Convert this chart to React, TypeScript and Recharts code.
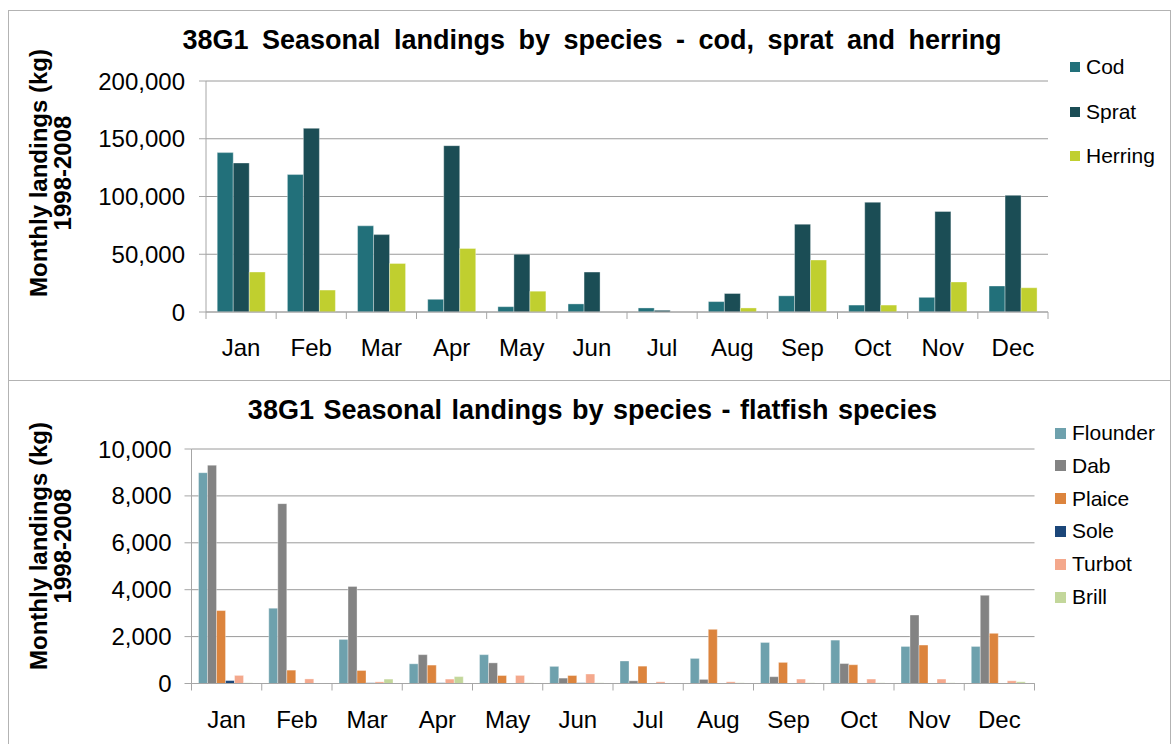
import * as React from "react"
import { BarChart, Bar, XAxis, YAxis, CartesianGrid } from "recharts"

// Month categories shared by both charts
const months = ["Jan", "Feb", "Mar", "Apr", "May", "Jun", "Jul", "Aug", "Sep", "Oct", "Nov", "Dec"]

// Top chart: cod, sprat and herring (kg)
const cod = [138000, 119000, 74600, 11000, 4600, 7000, 3500, 9000, 14000, 6000, 12700, 22500]
const sprat = [129000, 159000, 67000, 144000, 50000, 34600, 1500, 16000, 76000, 95000, 87000, 101000]
const herring = [34600, 19000, 42000, 55000, 18000, 0, 0, 3500, 45000, 6000, 26000, 21000]
const topTicks = [0, 50000, 100000, 150000, 200000]

// Bottom chart: flatfish species (kg)
const flounder = [8990, 3210, 1880, 840, 1230, 730, 960, 1070, 1750, 1850, 1580, 1580]
const dab = [9310, 7670, 4140, 1230, 880, 230, 115, 175, 290, 850, 2920, 3760]
const plaice = [3110, 570, 555, 785, 340, 340, 740, 2310, 900, 800, 1640, 2140]
const sole = [125, 20, 30, 30, 15, 30, 15, 15, 15, 15, 15, 15]
const turbot = [345, 195, 70, 188, 345, 405, 72, 72, 190, 190, 190, 116]
const brill = [30, 15, 188, 295, 30, 30, 10, 30, 30, 30, 30, 72]
const bottomTicks = [0, 2000, 4000, 6000, 8000, 10000]

const topSeries = [
  { key: "Cod", values: cod, color: "#22707a" },
  { key: "Sprat", values: sprat, color: "#1b4d55" },
  { key: "Herring", values: herring, color: "#c0cf2f" },
]

const bottomSeries = [
  { key: "Flounder", values: flounder, color: "#6ea1ad" },
  { key: "Dab", values: dab, color: "#838383" },
  { key: "Plaice", values: plaice, color: "#dc843d" },
  { key: "Sole", values: sole, color: "#1b4679" },
  { key: "Turbot", values: turbot, color: "#f4a88c" },
  { key: "Brill", values: brill, color: "#c3d79b" },
]

const buildRows = (series: { key: string; values: number[] }[]) =>
  months.map((m, i) => {
    const row: Record<string, any> = { month: m }
    series.forEach((s) => (row[s.key] = s.values[i]))
    return row
  })

const topData = buildRows(topSeries)
const bottomData = buildRows(bottomSeries)

const FONT = '"Liberation Sans", Arial, sans-serif'
const AXIS = "#a6a6a6"
const GRID = "#9a9a9a"

const fmt = (v: number) => v.toLocaleString("en-US")

// x tick: label in the middle, tick marks on category boundaries (Excel style)
function CategoryTick(props: any) {
  const { x, y, payload, index, band, count } = props
  const half = band / 2
  return (
    <g>
      <line x1={x - half} x2={x - half} y1={y} y2={y + 7} stroke={AXIS} />
      {index === count - 1 && <line x1={x + half} x2={x + half} y1={y} y2={y + 7} stroke={AXIS} />}
      <text x={x} y={y + 44} textAnchor="middle" fontSize={24} fill="#000" fontFamily={FONT}>
        {payload.value}
      </text>
    </g>
  )
}

function Legend({ items, left, top, step, box }: any) {
  return (
    <div style={{ position: "absolute", left, top, fontFamily: FONT, fontSize: 21, color: "#000" }}>
      {items.map((s: any, i: number) => (
        <div
          key={s.key}
          style={{ position: "absolute", top: i * step, left: 0, display: "flex", alignItems: "center", height: 0, whiteSpace: "nowrap" }}
        >
          <span style={{ width: box, height: box, background: s.color, display: "inline-block", marginRight: 6 }} />
          <span>{s.key}</span>
        </div>
      ))}
    </div>
  )
}

function YTitle({ cx, cy }: { cx: number; cy: number }) {
  return (
    <div
      style={{
        position: "absolute",
        left: cx - 150,
        top: cy - 25,
        width: 300,
        height: 50,
        transform: "rotate(-90deg)",
        fontFamily: FONT,
        fontWeight: "bold",
        fontSize: 24,
        lineHeight: "24px",
        textAlign: "center",
        color: "#000",
      }}
    >
      Monthly landings (kg)
      <br />
      1998-2008
    </div>
  )
}

function Title({ text, cx, cy, wordSpacing }: any) {
  return (
    <div
      style={{
        position: "absolute",
        left: cx - 500,
        top: cy - 16,
        width: 1000,
        textAlign: "center",
        fontFamily: FONT,
        fontWeight: "bold",
        fontSize: 27,
        lineHeight: "32px",
        wordSpacing,
        color: "#000",
        whiteSpace: "nowrap",
      }}
    >
      {text}
    </div>
  )
}

const W = 1171

export default function App() {
  const topLeft = 206
  const topRight = 1048
  const botLeft = 191.5
  const botRight = 1034.5
  const topBand = (topRight - topLeft) / months.length
  const botBand = (botRight - botLeft) / months.length

  return (
    <div style={{ position: "relative", width: W, height: 744, overflow: "hidden", background: "#fff" }}>
      <style>{`body{margin:0}`}</style>
      <div style={{ position: "absolute", left: 8, top: 10, width: 1161, height: 369, border: "1px solid #b3b3b3" }} />
      <div style={{ position: "absolute", left: 8, top: 380, width: 1161, height: 380, border: "1px solid #b3b3b3" }} />

      {/* top chart */}
      <div style={{ position: "absolute", left: 0, top: 0 }}>
        <BarChart
          width={W}
          height={380}
          data={topData}
          margin={{ top: 81, right: W - topRight, bottom: 28, left: 0 }}
          barCategoryGap="16%"
          barGap={0}
        >
          <CartesianGrid vertical={false} stroke={GRID} />
          <XAxis
            dataKey="month"
            height={40}
            axisLine={{ stroke: AXIS }}
            tickLine={false}
            tickSize={0}
            tickMargin={0}
            interval={0}
            tick={(p: any) => <CategoryTick {...p} band={topBand} count={months.length} />}
          />
          <YAxis
            width={topLeft}
            domain={[0, 200000]}
            ticks={topTicks}
            tickFormatter={fmt}
            axisLine={{ stroke: AXIS }}
            tickLine={{ stroke: AXIS }}
            tickSize={7}
            tickMargin={14}
            tick={{ fontSize: 24, fill: "#000", fontFamily: FONT }}
          />
          {topSeries.map((s) => (
            <Bar
              key={s.key}
              dataKey={s.key}
              fill={s.color}
              stroke="rgba(255,255,255,0.35)"
              strokeWidth={1}
              isAnimationActive={false}
            />
          ))}
        </BarChart>
      </div>
      <Title text="38G1 Seasonal landings by species - cod, sprat and herring" cx={592} cy={40} wordSpacing={6} />
      <YTitle cx={52} cy={173} />
      <Legend items={topSeries} left={1070} top={67} step={44.7} box={10} />

      {/* bottom chart */}
      <div style={{ position: "absolute", left: 0, top: 380 }}>
        <BarChart
          width={W}
          height={364}
          data={bottomData}
          margin={{ top: 69, right: W - botRight, bottom: 20, left: 0 }}
          barCategoryGap="10%"
          barGap={0}
        >
          <CartesianGrid vertical={false} stroke={GRID} />
          <XAxis
            dataKey="month"
            height={40.5}
            axisLine={{ stroke: AXIS }}
            tickLine={false}
            tickSize={0}
            tickMargin={0}
            interval={0}
            tick={(p: any) => <CategoryTick {...p} band={botBand} count={months.length} />}
          />
          <YAxis
            width={botLeft}
            domain={[0, 10000]}
            ticks={bottomTicks}
            tickFormatter={fmt}
            axisLine={{ stroke: AXIS }}
            tickLine={{ stroke: AXIS }}
            tickSize={7}
            tickMargin={13}
            tick={{ fontSize: 24, fill: "#000", fontFamily: FONT }}
          />
          {bottomSeries.map((s) => (
            <Bar
              key={s.key}
              dataKey={s.key}
              fill={s.color}
              stroke="rgba(255,255,255,0.35)"
              strokeWidth={1}
              isAnimationActive={false}
            />
          ))}
        </BarChart>
      </div>
      <Title text="38G1 Seasonal landings by species - flatfish species" cx={592.5} cy={410} wordSpacing={2} />
      <YTitle cx={52} cy={546} />
      <Legend items={bottomSeries} left={1055} top={433} step={32.8} box={11} />
    </div>
  )
}
